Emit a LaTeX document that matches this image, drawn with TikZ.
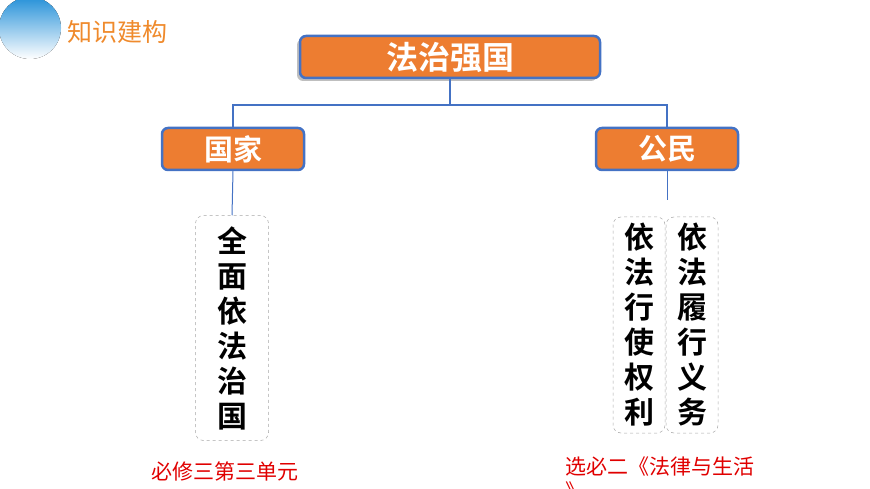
\documentclass[tikz,border=0pt]{standalone}
\usepackage{fontspec}
\newfontfamily\cjk{Noto Sans CJK SC}
\newfontfamily\cjkb{Noto Sans CJK SC Bold}
\usetikzlibrary{shadows}
\definecolor{org}{HTML}{ED7D31}
\definecolor{blu}{HTML}{4472C4}
\definecolor{red}{HTML}{E00000}
\tikzset{
 obox/.style={draw=blu,line width=2.5pt,fill=org,rounded corners=6pt,text=white,font=\cjkb\fontsize{29}{29}\selectfont,inner sep=0pt},
 dbox/.style={draw=gray!70,dashed,line width=0.5pt,rounded corners=8pt,inner sep=0pt},
 conn/.style={draw=blu,line width=2pt},
 vtext/.style={font=\cjkb\fontsize{30}{35}\selectfont,align=center,text=black},
 note/.style={font=\cjk\fontsize{21}{21}\selectfont,text=red,anchor=west}
}
\begin{document}
\begin{tikzpicture}[x=1pt,y=-1pt]
\useasboundingbox (0,0) rectangle (870,489);
\fill[top color=blue!40!cyan!70!gray,bottom color=white] (30,28) circle (31);
\node[font=\cjk\fontsize{25}{25}\selectfont,text=org!90!yellow,anchor=west] (hd) at (64,32) {知识建构};
\node[obox,font=\cjkb\fontsize{32}{32}\selectfont,minimum width=300,minimum height=42,drop shadow={shadow xshift=-3pt,shadow yshift=-3pt,opacity=0.5}] (top) at (450,57) {法治强国};
\node[obox,minimum width=142,minimum height=42] (gj) at (233,149) {国家};
\node[obox,minimum width=142,minimum height=42] (gm) at (667,149) {公民};
\coordinate (j) at (450,105);
\draw[conn] (top.south) -- (j);
\draw[conn] (gj.north) |- (j) -| (gm.north);
\node[dbox,minimum width=73,minimum height=225] (b1) at (232,328) {};
\node[vtext] at (b1) {全\\面\\依\\法\\治\\国};
\node[dbox,minimum width=52,minimum height=216] (b2) at (639,325) {};
\node[vtext] at (b2) {依\\法\\行\\使\\权\\利};
\node[dbox,minimum width=52,minimum height=216] (b3) at (692,325) {};
\node[vtext] at (b3) {依\\法\\履\\行\\义\\务};
\draw[conn,line width=1pt] (gj.south) -- (b1.north);
\coordinate (r1) at (667,200);
\draw[conn,line width=1pt] (gm.south) -- (r1);
\node[note] (n1) at (148,471) {必修三第三单元};
\node[note] (n2) at (562,467) {选必二《法律与生活};
\node[note] (n3) at (562,492) {》};
\end{tikzpicture}
\end{document}
